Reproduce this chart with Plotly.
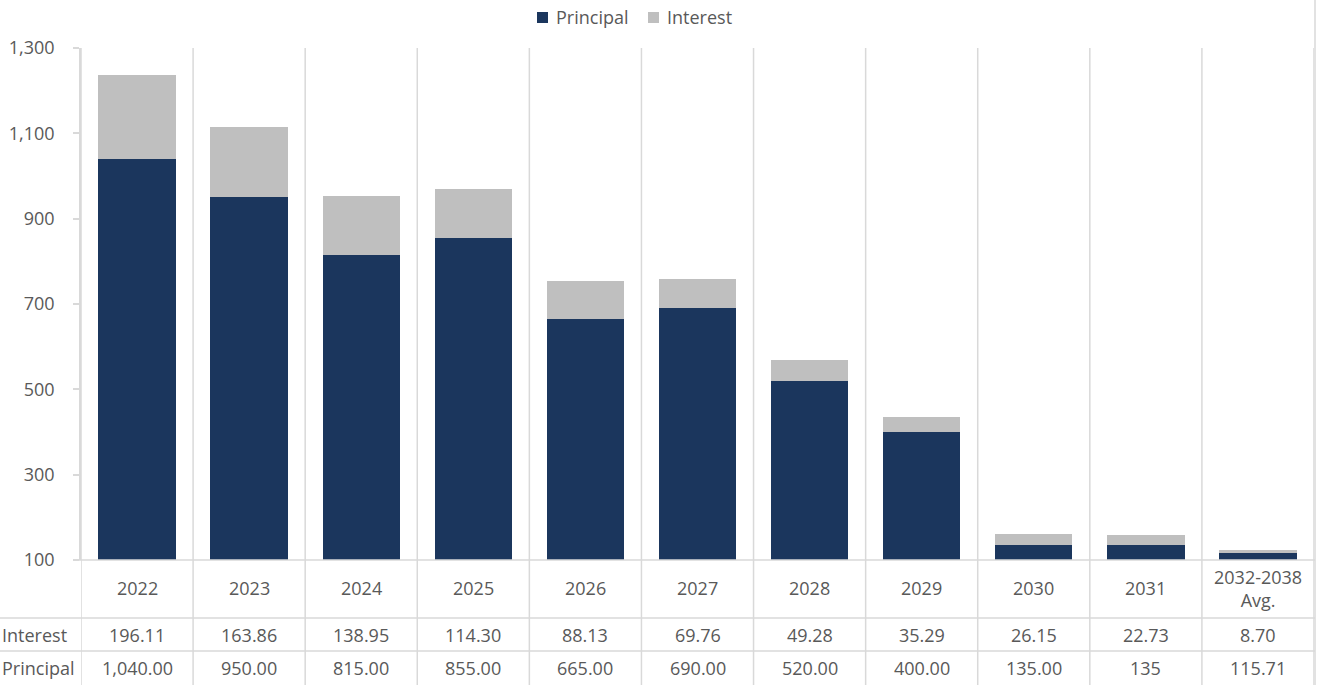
import plotly.graph_objects as go

# Debt service schedule by year (USD millions)
categories = ["2022", "2023", "2024", "2025", "2026", "2027", "2028", "2029", "2030", "2031", "2032-2038<br>Avg."]
principal = [1040.00, 950.00, 815.00, 855.00, 665.00, 690.00, 520.00, 400.00, 135.00, 135, 115.71]
interest = [196.11, 163.86, 138.95, 114.30, 88.13, 69.76, 49.28, 35.29, 26.15, 22.73, 8.70]
principal_labels = ["1,040.00", "950.00", "815.00", "855.00", "665.00", "690.00", "520.00", "400.00", "135.00", "135", "115.71"]
interest_labels = ["196.11", "163.86", "138.95", "114.30", "88.13", "69.76", "49.28", "35.29", "26.15", "22.73", "8.70"]
y_ticks = [100, 300, 500, 700, 900, 1100, 1300]

NAVY = "#1B365D"
GREY = "#BFBFBF"
TEXT = "#595959"
LINE = "#D9D9D9"
FONT = "'Open Sans', sans-serif"
FS = 18

W, H = 1317, 685
ML, MR, MT, MB = 81, 3, 48, 125
plot_h = H - MT - MB


def py(px):
    """Convert a pixel row to paper y."""
    return (H - MB - px) / plot_h


def px_x(px):
    """Convert a pixel column to paper x."""
    return (px - ML) / (W - ML - MR)


xs = list(range(len(categories)))

fig = go.Figure()
fig.add_trace(go.Bar(x=xs, y=principal, name="Principal", marker=dict(color=NAVY, line=dict(width=0)),
                     width=0.69, showlegend=False))
fig.add_trace(go.Bar(x=xs, y=interest, name="Interest", marker=dict(color=GREY, line=dict(width=0)),
                     width=0.69, showlegend=False))

shapes = []
# category separators running through the plot and the data table
for i in range(len(categories) + 1):
    shapes.append(dict(type="line", xref="x", yref="paper", x0=i - 0.5, x1=i - 0.5,
                       y0=1, y1=py(H), line=dict(color=LINE, width=1.5), layer="below"))
# right-hand border
shapes.append(dict(type="line", xref="paper", yref="paper", x0=px_x(1315), x1=px_x(1315),
                   y0=py(0), y1=py(H), line=dict(color=LINE, width=1.5)))
# table rules
shapes.append(dict(type="line", xref="paper", yref="paper", x0=px_x(75), x1=px_x(1315),
                   y0=0, y1=0, line=dict(color=LINE, width=1.5)))
for row_px in (618, 651):
    shapes.append(dict(type="line", xref="paper", yref="paper", x0=px_x(0), x1=px_x(1315),
                       y0=py(row_px), y1=py(row_px), line=dict(color=LINE, width=1.5)))

annotations = []
for i, c in enumerate(categories):
    annotations.append(dict(x=i, y=py(588), xref="x", yref="paper", text=c, showarrow=False,
                            xanchor="center", yanchor="middle", align="center",
                            font=dict(size=FS, color=TEXT, family=FONT)))
    annotations.append(dict(x=i, y=py(635), xref="x", yref="paper", text=interest_labels[i],
                            xanchor="center", yanchor="middle", showarrow=False,
                            font=dict(size=FS, color=TEXT, family=FONT)))
    annotations.append(dict(x=i, y=py(668), xref="x", yref="paper", text=principal_labels[i],
                            xanchor="center", yanchor="middle", showarrow=False,
                            font=dict(size=FS, color=TEXT, family=FONT)))
for label, row_px in (("Interest", 635), ("Principal", 668)):
    annotations.append(dict(x=px_x(0), y=py(row_px), xref="paper", yref="paper", text=label,
                            xanchor="left", yanchor="middle", showarrow=False,
                            font=dict(size=FS, color=TEXT, family=FONT)))

# legend: swatch + label for each series
legend_items = [("Principal", NAVY, 537), ("Interest", GREY, 648)]
for name, color, left in legend_items:
    shapes.append(dict(type="rect", xref="paper", yref="paper",
                       x0=px_x(left), x1=px_x(left + 11), y0=py(23), y1=py(12),
                       fillcolor=color, line=dict(width=0)))
    annotations.append(dict(x=px_x(left + 17), y=py(17), xref="paper", yref="paper", text=name,
                            xanchor="left", yanchor="middle", showarrow=False,
                            font=dict(size=FS, color=TEXT, family=FONT)))

fig.update_layout(
    width=W, height=H,
    margin=dict(l=ML, r=MR, t=MT, b=MB, pad=0, autoexpand=False),
    barmode="stack",
    plot_bgcolor="white", paper_bgcolor="white",
    font=dict(family=FONT, size=FS, color=TEXT),
    showlegend=False,
    xaxis=dict(range=[-0.5, len(categories) - 0.5], showticklabels=False, showgrid=False,
               zeroline=False, showline=False, ticks=""),
    yaxis=dict(range=[100, 1300], tickvals=y_ticks, tickformat=",", showgrid=False, zeroline=False,
               showline=True, linecolor=LINE, linewidth=1.5, ticks="outside", ticklen=6,
               tickcolor=LINE, tickwidth=1.5, ticklabelstandoff=15,
               tickfont=dict(size=FS, color=TEXT, family=FONT)),
    shapes=shapes,
    annotations=annotations,
)

fig.write_html("out.html")
